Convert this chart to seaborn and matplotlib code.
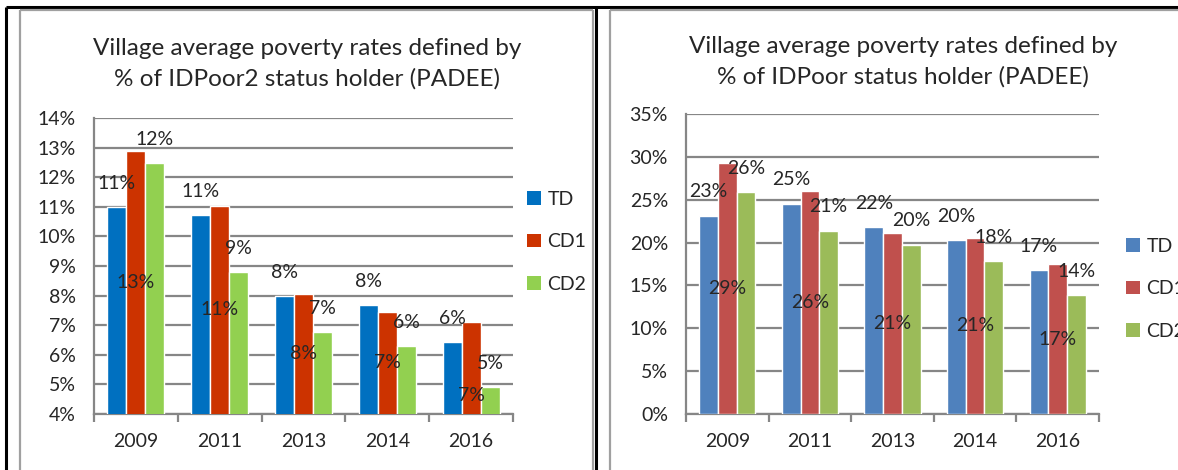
import matplotlib
matplotlib.use("Agg")
import matplotlib.pyplot as plt
import seaborn as sns
import numpy as np
import pandas as pd
from matplotlib.lines import Line2D
from matplotlib.patches import Patch

sns.set_style("white")
plt.rcParams["font.family"] = ["Lato", "DejaVu Sans"]

years = ["2009", "2011", "2013", "2014", "2016"]
groups = ["TD", "CD1", "CD2"]

# IDPoor2 (left chart), percent
idpoor2_td = [11.00, 10.72, 7.97, 7.67, 6.43]
idpoor2_cd1 = [12.89, 11.03, 8.07, 7.45, 7.10]
idpoor2_cd2 = [12.48, 8.80, 6.76, 6.30, 4.90]

# IDPoor (right chart), percent
idpoor_td = [23.15, 24.55, 21.79, 20.31, 16.81]
idpoor_cd1 = [29.28, 25.97, 21.13, 20.55, 17.47]
idpoor_cd2 = [25.93, 21.40, 19.77, 17.86, 13.91]

left_colors = ["#0070C0", "#CC3300", "#92D050"]
right_colors = ["#4F81BD", "#C0504D", "#9BBB59"]

W, H = 1178, 470
GRID = "#868686"
FS = 14


def to_long(td, cd1, cd2):
    rows = []
    for g, vals in zip(groups, [td, cd1, cd2]):
        for y, v in zip(years, vals):
            rows.append({"Year": y, "Group": g, "Rate": v})
    return pd.DataFrame(rows)


def px_axes(fig, x0, x1, ytop, ybot):
    return fig.add_axes([x0 / W, 1 - ybot / H, (x1 - x0) / W, (ybot - ytop) / H])


def draw_panel(ax, df, colors, ymin, ymax, step, nudges=None):
    nudges = nudges or {}
    sns.barplot(data=df, x="Year", y="Rate", hue="Group", order=years,
                hue_order=groups, palette=colors, width=0.68, gap=0,
                saturation=1, legend=False, ax=ax, zorder=3)
    ax.set_ylim(ymin, ymax)
    ax.set_yticks(np.arange(ymin, ymax + 0.01, step))
    ax.set_yticklabels([f"{t:.0f}%" for t in ax.get_yticks()], fontsize=FS)
    ax.set_xticks(range(len(years)))
    ax.set_xticklabels(years, fontsize=FS)
    ax.set_xticks(np.arange(-0.5, len(years), 1), minor=True)
    ax.set_xlim(-0.5, len(years) - 0.5)
    ax.set_xlabel("")
    ax.set_ylabel("")
    ax.grid(axis="y", color=GRID, linewidth=1.6, zorder=0)
    ax.set_axisbelow(True)
    for s in ["top", "right"]:
        ax.spines[s].set_visible(False)
    for s in ["left", "bottom"]:
        ax.spines[s].set_color(GRID)
        ax.spines[s].set_linewidth(1.6)
    ax.tick_params(axis="y", which="major", length=5, width=1.6, color=GRID, pad=8)
    ax.tick_params(axis="x", which="major", length=0, pad=14)
    ax.tick_params(axis="x", which="minor", length=6, width=1.6, color=GRID, bottom=True)

    # data labels as laid out in the original: TD and CD2 above, CD1 centred
    base = ax.get_ylim()[0]
    for gi, cont in enumerate(ax.containers):
        for i, p in enumerate(cont.patches):
            h = p.get_height()
            xc = p.get_x() + p.get_width() / 2
            txt = f"{h:.0f}%"
            if gi == 1:
                dy = nudges.get(i, 0)
                ax.annotate(txt, (xc, (base + h) / 2), xytext=(0, dy),
                            textcoords="offset points", ha="center", va="center",
                            fontsize=FS, zorder=5)
            else:
                ax.annotate(txt, (xc, h), xytext=(0, 17), textcoords="offset points",
                            ha="center", va="center", fontsize=FS, zorder=5)


fig = plt.figure(figsize=(W / 100, H / 100), dpi=100)

ax1 = px_axes(fig, 94, 513, 118, 414)
draw_panel(ax1, to_long(idpoor2_td, idpoor2_cd1, idpoor2_cd2), left_colors, 4, 14, 1,
           nudges={4: -20})

ax2 = px_axes(fig, 686, 1099, 114, 414)
draw_panel(ax2, to_long(idpoor_td, idpoor_cd1, idpoor_cd2), right_colors, 0, 35, 5)

fig.text(307 / W, 1 - 64 / H,
         "Village average poverty rates defined by\n% of IDPoor2 status holder (PADEE)",
         ha="center", va="center", fontsize=17.5, linespacing=1.5)
fig.text(903 / W, 1 - 62 / H,
         "Village average poverty rates defined by\n% of IDPoor status holder (PADEE)",
         ha="center", va="center", fontsize=17.5, linespacing=1.5)

for colors, x, ytop in [(left_colors, 527, 191), (right_colors, 1126, 238)]:
    handles = [Patch(facecolor=c, edgecolor="none") for c in colors]
    fig.legend(handles, groups, loc="upper left",
               bbox_to_anchor=(x / W, 1 - ytop / H), frameon=False,
               fontsize=FS, handlelength=0.7, handleheight=0.7,
               handletextpad=0.35, labelspacing=1.3, borderpad=0,
               borderaxespad=0)

# table and chart frames
def fline(xs, ys, color, lw):
    fig.add_artist(Line2D([x / W for x in xs], [1 - y / H for y in ys],
                          color=color, linewidth=lw, solid_capstyle="butt"))

fline([6, W], [7, 7], "black", 2.2)
fline([6, 6], [7, H], "black", 2.2)
fline([596, 596], [7, H], "black", 2.2)
fline([20, 593], [9.5, 9.5], "#A0A0A0", 1.6)
fline([20, 20], [9.5, H], "#A0A0A0", 1.6)
fline([593, 593], [9.5, H], "#A0A0A0", 1.6)
fline([610, W], [9.5, 9.5], "#A0A0A0", 1.6)
fline([610, 610], [9.5, H], "#A0A0A0", 1.6)

fig.savefig("out.png", dpi=100)
